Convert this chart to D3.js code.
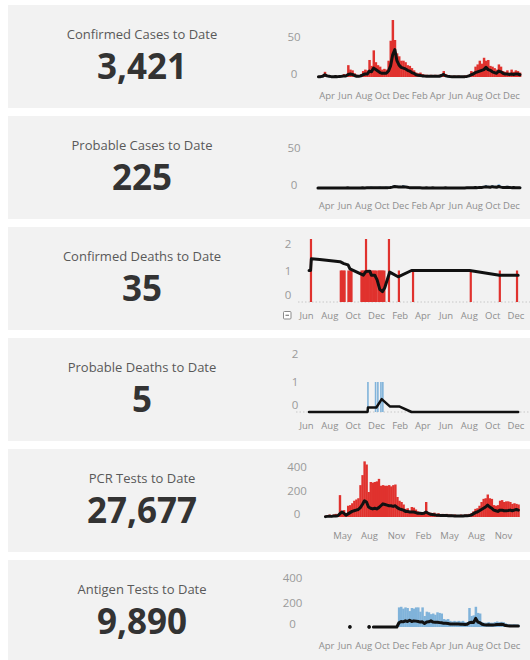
<!DOCTYPE html>
<html><head><meta charset="utf-8">
<script src="https://cdn.jsdelivr.net/npm/d3@7"></script>
<style>
body{margin:0;background:#fff;}
svg{display:block;font-family:"Open Sans",sans-serif;}
</style></head><body>
<svg id="c" width="530" height="660"></svg>
<script>
const panelTitles = ["Confirmed Cases to Date","Probable Cases to Date","Confirmed Deaths to Date","Probable Deaths to Date","PCR Tests to Date","Antigen Tests to Date"];
const panelTotals = ["3,421","225","35","5","27,677","9,890"];

const monthTicksA = ["2020-04-01","2020-06-01","2020-08-01","2020-10-01","2020-12-01","2021-02-01","2021-04-01","2021-06-01","2021-08-01","2021-10-01","2021-12-01"];
const monthTicksB = ["2020-06-01","2020-08-01","2020-10-01","2020-12-01","2021-02-01","2021-04-01","2021-06-01","2021-08-01","2021-10-01","2021-12-01"];
const monthTicksC = ["2020-05-01","2020-08-01","2020-11-01","2021-02-01","2021-05-01","2021-08-01","2021-11-01"];
const caseTicks = [0,50];
const deathTicks = [0,1,2];
const testTicks = [0,200,400];

const weekStart = "2020-03-02";
const casesBar = [1,2,3,7,3,2,1,1,2,1, 2,2,4,3,16,10,9,5,3,2, 4,8,10,9,23,15,36,20,16,14, 10,11,10,22,49,77,50,32,28,22, 22,20,16,15,12,9,6,5,6,4, 3,3,2,3,2,3,2,3,4,8, 4,2,2,1,2,1,2,1,1,2, 2,3,8,7,14,17,22,18,26,22, 23,15,14,12,10,17,14,8,7,9, 6,10,7,9,8,6];
const casesAvg = [0.3,0.5,1,3,1.5,1,0.5,0.5,0.7,0.5, 0.8,1,1.5,1.5,3.5,4,3.5,2,1,1, 1.5,3,4,4,8,7,12,10,8,6, 5,5,5,8,15,30,37,22,16,13, 12,11,9,8,6,5,3,2.5,2,1.5, 1.2,1,1,1,1,1,1,1,2,3.5, 1.5,1,0.7,0.5,0.5,0.5,0.5,0.3,0.3,0.5, 0.8,1.5,3,4,6,7,8,9,10,13, 10,9,7,6,5,8,7,5,4,4, 3.5,4,3.5,4,4,3];
const probBar = [0,0,0,0,0,0,0,0,0,0, 0,0,0,0,1,0,0,0,0,0, 0,1,0,1,1,2,1,1,1,2, 1,1,2,1,2,3,4,3,3,2, 4,3,2,1,1,1,1,0,1,0, 0,1,0,0,1,0,0,0,0,0, 1,0,0,0,0,0,0,0,0,0, 1,1,1,1,2,1,2,2,3,4, 3,2,4,3,2,5,3,2,2,3, 2,1,2,1,1,1];
const probAvg = [0,0,0,0,0,0,0,0,0,0, 0,0,0,0,0.2,0.1,0,0,0,0, 0,0.2,0.1,0.2,0.3,0.5,0.5,0.4,0.4,0.5, 0.4,0.4,0.5,0.5,0.8,1.2,2,1.8,1.5,1.2, 1.8,1.5,1,0.5,0.4,0.3,0.3,0.2,0.2,0.1, 0.1,0.2,0.1,0.1,0.2,0.1,0,0,0,0, 0.2,0.1,0,0,0,0,0,0,0,0, 0.2,0.3,0.3,0.4,0.6,0.5,0.8,0.8,1.2,1.6, 1.2,1,1.8,1.2,1,2,1.2,0.8,0.8,1, 0.8,0.5,0.6,0.5,0.4,0.4];

const deathDates = ["2020-06-14","2020-08-31","2020-09-03","2020-09-07","2020-09-10","2020-09-20","2020-09-24","2020-09-28","2020-10-24","2020-10-27","2020-10-30","2020-11-02","2020-11-05","2020-11-09","2020-11-12","2020-11-16","2020-11-20","2020-11-24","2020-11-27","2020-12-01","2020-12-07","2020-12-10","2020-12-13","2020-12-16","2020-12-19","2020-12-23","2021-01-04","2021-01-30","2021-03-08","2021-08-06","2021-10-21","2021-12-05"];
const deathCounts = [2,1,1,1,1,1,1,1,1,1,1,1,2,1,1,1,1,1,1,1,1,1,1,1,1,1,2,1,1,1,1,1];
const deathAvgDates = ["2020-06-09","2020-06-13","2020-06-15","2020-07-07","2020-08-29","2020-09-08","2020-09-19","2020-09-24","2020-10-29","2020-11-05","2020-11-15","2020-11-19","2020-11-28","2020-12-04","2020-12-11","2020-12-18","2020-12-24","2021-01-06","2021-01-28","2021-03-04","2021-08-03","2021-10-20","2021-12-08"];
const deathAvg = [1.0,1.0,1.37,1.35,1.28,1.22,1.18,1.05,0.85,0.97,0.98,0.85,0.85,0.7,0.4,0.33,0.45,0.95,0.8,1.0,1.0,0.85,0.85];

const probDeathDates = ["2020-11-10","2020-11-30","2020-12-06","2020-12-14","2020-12-19"];
const probDeathCounts = [1,1,1,1,1];
const probDeathAvgDates = ["2020-06-09","2020-11-09","2020-11-10","2020-12-02","2020-12-16","2021-01-07","2021-02-01","2021-03-04","2021-12-08"];
const probDeathAvg = [0,0,0.15,0.15,0.43,0.18,0.18,0,0];

const pcrBar = [10,15,20,15,20,25,20,175,50,55, 30,90,95,110,130,140,150,255,335,445, 420,200,280,275,280,285,305,250,255,250, 250,255,245,255,260,160,130,120,100,65, 70,50,80,75,60,45,40,35,40,120, 40,35,30,35,25,30,20,25,20,25, 20,20,15,20,15,15,20,15,20,20, 25,30,45,65,70,90,120,145,150,180, 150,145,95,90,95,130,135,120,125,125, 120,105,110,105,100];
const pcrAvg = [3,5,6,5,8,8,10,25,40,30, 15,25,35,45,50,55,60,75,100,130, 120,80,70,65,70,65,75,90,105,100, 95,90,90,85,90,75,65,60,55,45, 45,40,40,40,35,30,30,28,30,40, 30,22,20,18,15,15,12,12,12,12, 10,10,10,8,8,8,8,8,10,10, 12,15,25,35,40,50,60,70,80,95, 80,70,55,50,45,55,55,50,50,52, 55,50,55,60,55];

const antigenBar = [null,null,null,null,null,null,null,null,null,null, null,null,null,null,null,2,null,null,null,null, null,null,null,null,2,null,1,2,2,3, 2,3,2,3,3,2,3,3,160,165, 150,160,155,130,155,150,160,160,125,160, 90,125,120,105,110,100,120,115,110,65, 60,65,50,45,50,45,50,45,50,40, 40,155,90,95,165,115,110,40,35,35, 40,35,35,40,45,40,42,40,30,25, 22,20,22,20,18];
const antigenAvg = [null,null,null,null,null,null,null,null,null,null, null,null,null,null,null,1,null,null,null,null, null,null,null,null,1,null,0,0,0,0, 0,0,0,0,0,0,0,0,35,45, 42,50,45,55,45,50,48,45,40,42, 28,40,42,50,40,38,38,36,35,30, 30,28,25,25,24,25,24,22,22,20, 22,35,38,36,70,40,35,22,18,17, 18,17,17,18,20,20,22,20,12,10, 9,8,9,8,8];

const RED = "#e0322e", BLUE = "#80b3da", LINE = "#111";
const P = d3.utcParse("%Y-%m-%d");
const svg = d3.select("#c");
const weekly = (vals) => vals.map((v,i)=>({d:d3.utcDay.offset(P(weekStart),7*i), e:d3.utcDay.offset(P(weekStart),7*i+7), m:d3.utcHour.offset(P(weekStart),(7*i+3.5)*24), v}));
const events = (dates, vals) => dates.map((s,i)=>({d:P(s), m:P(s), v:vals[i]}));

function panel(k, cfg) {
  const T = 5 + 111*k;
  const g = svg.append("g");
  g.append("rect").attr("x",8).attr("y",T).attr("width",522).attr("height",103).attr("fill","#f2f2f2");
  g.append("text").attr("x",142).attr("y",T+34).attr("text-anchor","middle").attr("font-size",13).attr("fill","#595959").text(panelTitles[k]);
  g.append("text").attr("x",142).attr("y",T+74).attr("text-anchor","middle").attr("font-size",35).attr("font-weight",700).attr("fill","#333").text(panelTotals[k]);

  const x = d3.scaleUtc().domain(cfg.xd.map(P)).range(cfg.xr);
  const y = d3.scaleLinear().domain(cfg.yd).range([T+cfg.yr[0], T+cfg.yr[1]]);

  if (cfg.zeroLine) {
    g.append("line").attr("x1",cfg.zeroLine[0]).attr("x2",cfg.zeroLine[1]).attr("y1",y(0)).attr("y2",y(0))
      .attr("stroke","#c8c8c8").attr("stroke-width",1).attr("stroke-dasharray","1.5,2");
  }
  // y axis
  const ya = g.append("g").attr("transform",`translate(${cfg.yLabelX},0)`)
    .call(d3.axisLeft(y).tickValues(cfg.yTicks).tickFormat(d3.format("d")).tickSize(0).tickPadding(0));
  ya.select(".domain").remove();
  ya.selectAll("text").attr("text-anchor","middle").attr("x",0).attr("font-size",11.5).attr("fill","#9a9a9a")
    .attr("font-family","Open Sans").attr("transform",d=>`translate(0,${(cfg.nudge[d]||0)})`);
  // x axis
  const xa = g.append("g").attr("transform",`translate(0,${T+cfg.xLabelY})`)
    .call(d3.axisBottom(x).tickValues(cfg.xTicks.map(P)).tickFormat(d3.utcFormat("%b")).tickSize(0).tickPadding(0));
  xa.select(".domain").remove();
  xa.selectAll("text").attr("y",0).attr("dy","0.35em").attr("font-size",9.5).attr("fill","#8e8e8e").attr("font-family","Open Sans");

  // bars
  const bars = cfg.bars.filter(d=>d.v!=null && d.v>0);
  g.append("g").selectAll("rect").data(bars).join("rect")
    .attr("x",d=> d.e ? x(d.d) : x(d.d)-cfg.barW/2)
    .attr("width",d=> d.e ? Math.max(0.5,x(d.e)-x(d.d)+0.35) : cfg.barW)
    .attr("y",d=>y(d.v)).attr("height",d=>y(0)-y(d.v))
    .attr("fill",cfg.color);
  // line
  const line = d3.line().defined(d=>d.v!=null).x(d=>x(d.m)).y(d=>y(d.v));
  g.append("path").datum(cfg.line).attr("d",line).attr("fill","none")
    .attr("stroke",LINE).attr("stroke-width",cfg.lw||3).attr("stroke-linejoin","round").attr("stroke-linecap","round");
  // isolated points
  const L = cfg.line;
  const iso = L.filter((d,i)=>d.v!=null && (i===0||L[i-1].v==null) && (i===L.length-1||L[i+1].v==null));
  g.append("g").selectAll("circle").data(iso).join("circle")
    .attr("cx",d=>x(d.m)).attr("cy",d=>y(d.v)).attr("r",1.8).attr("fill",LINE);
  return {g, T, x, y};
}

panel(0, {xd:["2020-04-01","2021-12-01"], xr:[326.5,511], yd:[0,50], yr:[72,35], yTicks:caseTicks, yLabelX:294,
  nudge:{0:-3,50:-3}, xTicks:monthTicksA, xLabelY:91, bars:weekly(casesBar), line:weekly(casesAvg), color:RED});
panel(1, {xd:["2020-04-01","2021-12-01"], xr:[326,511], yd:[0,50], yr:[72,35], yTicks:caseTicks, yLabelX:294,
  nudge:{0:-3,50:-3}, xTicks:monthTicksA, xLabelY:90, bars:weekly(probBar), line:weekly(probAvg), color:BLUE});
const p3 = panel(2, {xd:["2020-06-01","2021-12-01"], xr:[306,515.5], yd:[0,2], yr:[75,12], yTicks:deathTicks, yLabelX:288,
  nudge:{0:-7,1:0,2:5}, xTicks:monthTicksB, xLabelY:89, bars:events(deathDates,deathCounts), barW:2.2,
  line:events(deathAvgDates,deathAvg), color:RED, zeroLine:[298,530]});
// collapse icon
p3.g.append("rect").attr("x",283.5).attr("y",p3.T+84.5).attr("width",7.5).attr("height",7.5).attr("rx",1)
  .attr("fill","#fff").attr("stroke","#8a8a8a").attr("stroke-width",1);
p3.g.append("line").attr("x1",285.5).attr("x2",289).attr("y1",p3.T+88.25).attr("y2",p3.T+88.25).attr("stroke","#666").attr("stroke-width",1);
panel(3, {xd:["2020-06-01","2021-12-01"], xr:[306,515.5], yd:[0,2], yr:[74,14], yTicks:deathTicks, yLabelX:295,
  nudge:{0:-7,1:0,2:2}, xTicks:monthTicksB, xLabelY:88, bars:events(probDeathDates,probDeathCounts), barW:1.6,
  line:events(probDeathAvgDates,probDeathAvg), color:BLUE, zeroLine:[296,530], lw:2.5});
panel(4, {xd:["2020-05-01","2021-11-01"], xr:[342,503], yd:[0,400], yr:[68,18], yTicks:testTicks, yLabelX:297,
  nudge:{0:-3,200:-1}, xTicks:monthTicksC, xLabelY:86.5, bars:weekly(pcrBar), line:weekly(pcrAvg), color:RED});
panel(5, {xd:["2020-04-01","2021-12-01"], xr:[326,511.5], yd:[0,400], yr:[67,18], yTicks:testTicks, yLabelX:292.5,
  nudge:{0:-3}, xTicks:monthTicksA, xLabelY:85.5, bars:weekly(antigenBar), line:weekly(antigenAvg), color:BLUE});
</script>
</body></html>
